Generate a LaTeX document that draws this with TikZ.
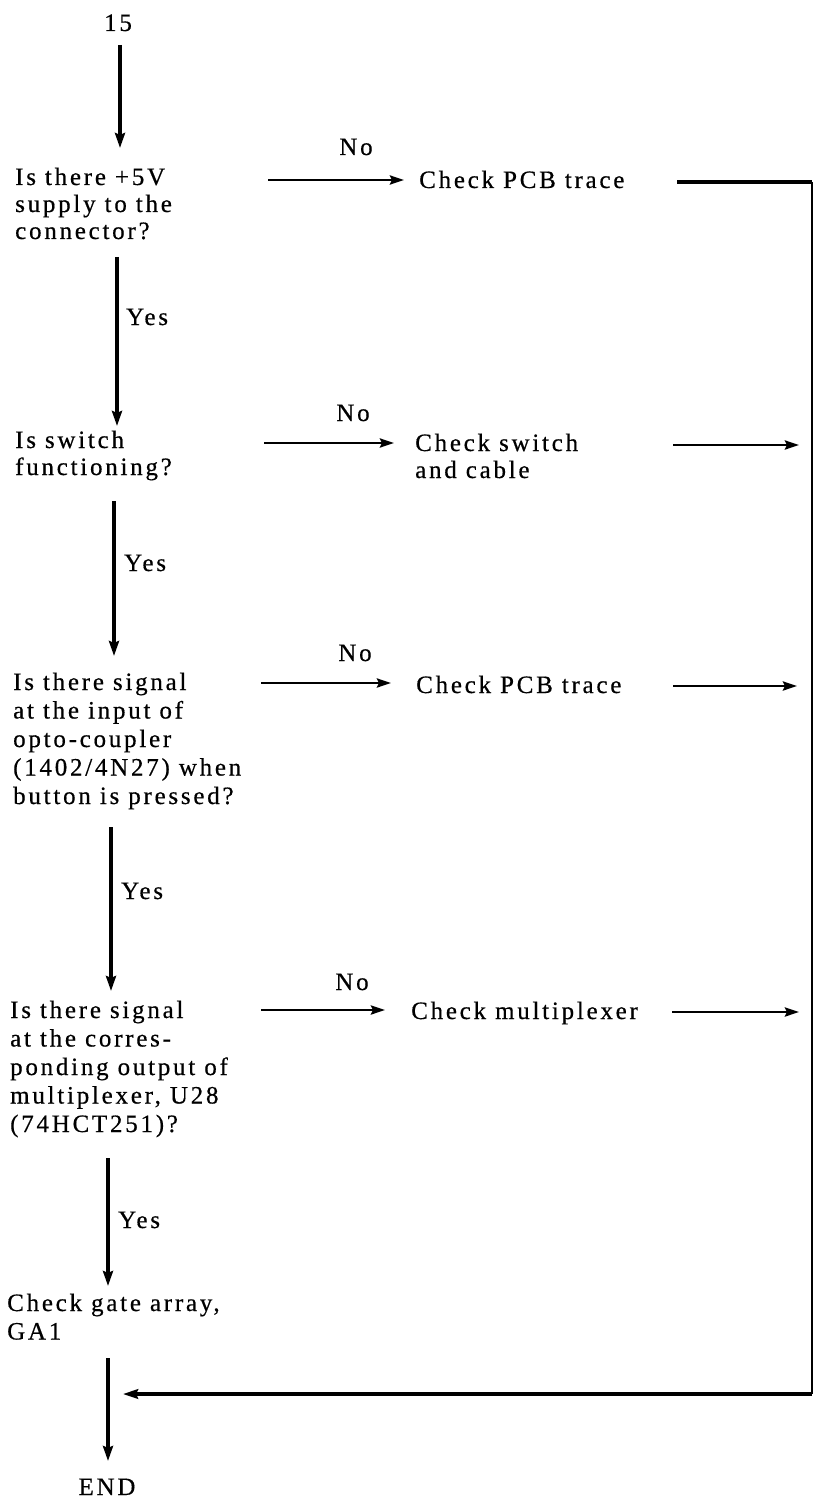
\documentclass[tikz,border=0pt]{standalone}
\usepackage{fontspec}
\setmainfont{Liberation Serif}[LetterSpace=11, FakeBold=0.5]
\usetikzlibrary{arrows.meta}
\newcommand\txtlines[1]{\begin{tabular}[t]{@{}l@{}}#1\end{tabular}}
\newcommand\chartfont{\fontsize{25}{28.5}\selectfont}
\newcommand\tightfont{\fontsize{25}{27}\selectfont}
\begin{document}
\begin{tikzpicture}[x=1pt,y=-1pt,
  txt/.style={anchor=base west, inner sep=0pt, font=\chartfont},
  tighttxt/.style={anchor=base west, inner sep=0pt, font=\tightfont},
  ctxt/.style={anchor=base, inner sep=0pt, font=\chartfont},
  down/.style={line width=3.4pt, -{Stealth[length=15pt,width=10pt,inset=2pt]}},
  side/.style={line width=2.8pt, -{Stealth[length=14pt,width=9pt,inset=2pt]}},
  ret/.style={line width=2.2pt},
  retline/.style={line width=3.4pt},
  retarrow/.style={line width=3.4pt, -{Stealth[length=15pt,width=9.5pt,inset=2pt]}}]
\useasboundingbox (0,0) rectangle (814,1503);

% --- texts ---
\node[ctxt] (start) at (118,31) {15};
\node[tighttxt] (q1) at (15,185) {\txtlines{Is there +5V\\ supply to the\\ connector?}};
\node[tighttxt] (q2) at (15,448) {\txtlines{Is switch\\ functioning?}};
\node[txt] (q3) at (13,690) {\txtlines{Is there signal\\ at the input of\\ opto-coupler\\ (1402/4N27) when\\ button is pressed?}};
\node[txt] (q4) at (10,1018) {\txtlines{Is there signal\\ at the corres-\\ ponding output of\\ multiplexer, U28\\ (74HCT251)?}};
\node[txt] (gate) at (7,1311) {\txtlines{Check gate array,\\ GA1}};
\node[ctxt] (end) at (107,1495) {END};

\node[txt] (c1) at (419,188) {Check PCB trace};
\node[tighttxt] (c2) at (415,451) {\txtlines{Check switch\\ and cable}};
\node[txt] (c3) at (416,693) {Check PCB trace};
\node[txt] (c4) at (411,1019) {Check multiplexer};

\node[ctxt] (no1) at (356,155) {No};
\node[ctxt] (no2) at (353,421) {No};
\node[ctxt] (no3) at (355,661) {No};
\node[ctxt] (no4) at (352,990) {No};

\node[txt] (y1) at (126,325) {Yes};
\node[txt] (y2) at (124,571) {Yes};
\node[txt] (y3) at (121,899) {Yes};
\node[txt] (y4) at (118,1228) {Yes};

% --- connector end points ---
\coordinate (a0s) at (120,45);   \coordinate (a0e) at (120,148);
\coordinate (a1s) at (117,257);  \coordinate (a1e) at (117,426);
\coordinate (a2s) at (114,501);  \coordinate (a2e) at (114,656);
\coordinate (a3s) at (111,827);  \coordinate (a3e) at (111,991);
\coordinate (a4s) at (108,1158); \coordinate (a4e) at (108,1286);
\coordinate (a5s) at (108,1358); \coordinate (a5e) at (108,1461);

\coordinate (n1s) at (268,180);  \coordinate (n1e) at (404,180);
\coordinate (n2s) at (264,443);  \coordinate (n2e) at (394,443);
\coordinate (n3s) at (261,683);  \coordinate (n3e) at (391,683);
\coordinate (n4s) at (261,1010); \coordinate (n4e) at (385,1010);

\coordinate (r1s) at (677,182);  \coordinate (rtop) at (812,182);
\coordinate (r2s) at (673,445);  \coordinate (r2e) at (799,445);
\coordinate (r3s) at (673,686);  \coordinate (r3e) at (797,686);
\coordinate (r4s) at (672,1012); \coordinate (r4e) at (799,1012);
\coordinate (rbot) at (812,1394); \coordinate (rend) at (123,1394);

% --- main flow ---
\draw[down] (a0s) -- (a0e);
\draw[down] (a1s) -- (a1e);
\draw[down] (a2s) -- (a2e);
\draw[down] (a3s) -- (a3e);
\draw[down] (a4s) -- (a4e);
\draw[down] (a5s) -- (a5e);

% --- "No" branches ---
\draw[side] (n1s) -- (n1e);
\draw[side] (n2s) -- (n2e);
\draw[side] (n3s) -- (n3e);
\draw[side] (n4s) -- (n4e);

% --- return path ---
\draw[retline] (r1s) -- (rtop);
\draw[ret] (rtop) -- (rbot);
\draw[side] (r2s) -- (r2e);
\draw[side] (r3s) -- (r3e);
\draw[side] (r4s) -- (r4e);
\draw[retarrow] (rbot) -- (rend);
\end{tikzpicture}
\end{document}
